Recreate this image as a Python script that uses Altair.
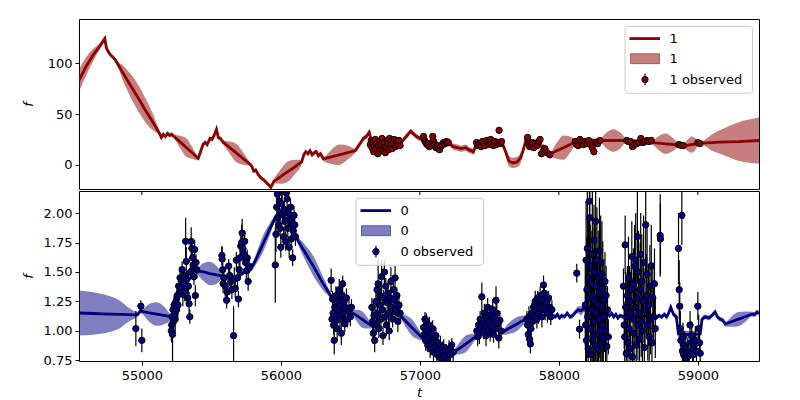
import altair as alt
import pandas as pd

T_DOMAIN = [54548, 59440]
X_TICKS = [55000, 56000, 57000, 58000, 59000]
TOP_Y_DOMAIN = [-23.6, 143.3]
TOP_Y_TICKS = [0, 50, 100]
BOT_Y_DOMAIN = [0.745, 2.187]
BOT_Y_TICKS = [0.75, 1.0, 1.25, 1.5, 1.75, 2.0]

RED = "#8b0000"
NAVY = "#000080"

# ---- band "1": GP mean and standard deviation (t, mean, sd)
gp1 = [
    (54548, 83, 11), (54600, 97, 9), (54650, 108, 6), (54700, 117, 3), (54734, 124, 2),
    (54745, 115, 2), (54755, 112, 2), (54765, 110, 2), (54775, 108, 2), (54790, 106, 2),
    (54805, 104, 2), (54818, 101, 2),
    (54870, 89, 8), (54930, 75.5, 12), (54975, 65.5, 13), (55020, 55, 12), (55080, 42, 8),
    (55129, 30.5, 2), (55140, 27, 2), (55155, 30, 2), (55170, 28, 2), (55185, 31, 2),
    (55200, 29, 2), (55215, 30, 2), (55230, 28.2, 2),
    (55275, 22.7, 6), (55318, 17.4, 9), (55362, 12, 6), (55406, 6.6, 2),
    (55420, 12, 2), (55440, 20, 2), (55455, 22, 2), (55470, 20, 2), (55490, 26, 2),
    (55505, 25, 2), (55520, 29, 2), (55537, 35, 2), (55550, 27, 2), (55565, 26, 2),
    (55585, 22.3, 2),
    (55633, 17, 6), (55681, 11.6, 9), (55729, 6.3, 6), (55777, 1, 2),
    (55790, -1, 2), (55805, -6, 2), (55820, -5, 2), (55840, -10, 2), (55860, -13, 2),
    (55880, -15, 2), (55900, -18, 2), (55915, -20, 2), (55928, -22, 2), (55950, -16, 2),
    (55998, -11.5, 7), (56050, -6.5, 10), (56100, -2, 7), (56150, 3, 2),
    (56165, 10, 2), (56180, 13, 2), (56195, 11, 2), (56210, 14, 2), (56225, 10, 2),
    (56240, 12, 2), (56255, 13, 2), (56270, 9, 2), (56285, 11, 2), (56307, 6, 2),
    (56364, 8, 7), (56421, 10, 10), (56478, 12, 7), (56535, 14, 2),
    (56555, 18, 2.5), (56575, 22, 2.5), (56595, 26, 2.5), (56615, 28, 2.5), (56636, 32, 2.5),
    (56650, 24, 2.5), (56680, 20, 2.5), (56720, 19, 2.5), (56760, 20, 2.5), (56800, 18, 2.5),
    (56840, 20, 2.5), (56866, 22, 2.5), (56890, 26, 2.5), (56915, 30, 2.5), (56935, 33, 2.5),
    (56950, 31, 2.5), (56975, 28, 2.5), (57000, 26, 2.5), (57030, 24, 2.5), (57070, 21, 2.5),
    (57110, 19, 2.5), (57150, 18, 2.5), (57190, 20, 2.5), (57210, 21, 2.5), (57240, 18, 3),
    (57270, 17, 3), (57300, 16, 3), (57330, 17, 3), (57350, 15, 3), (57370, 14, 3),
    (57385, 13, 3), (57400, 18, 3), (57420, 22, 2.5), (57450, 21, 2.5), (57480, 20, 2.5),
    (57510, 21, 2.5), (57540, 23, 2.5), (57560, 22, 2.5), (57580, 21, 2.5), (57600, 19, 3),
    (57620, 12, 4), (57640, 4, 5), (57670, 2, 5), (57700, 3, 5), (57725, 7, 5),
    (57745, 15, 4), (57768, 27, 2.5), (57800, 22, 2.5), (57850, 20, 2.5), (57900, 17, 2.5),
    (57938, 11, 2),
    (57986, 14, 8), (58033, 17, 12), (58081, 20, 8), (58129, 23, 2),
    (58200, 24, 2), (58297, 24, 2),
    (58345, 24, 8), (58392, 24, 11), (58440, 24, 8), (58487, 24, 2),
    (58580, 23, 2), (58671, 22, 2),
    (58719, 21.4, 7), (58767, 20.8, 10), (58815, 20.2, 7), (58862, 19.5, 2),
    (58900, 19, 2), (58930, 19.5, 6), (58955, 20, 8), (58980, 20.5, 6), (59005, 21, 2),
    (59033, 21.5, 2), (59100, 22, 8), (59150, 22.5, 11), (59295, 23, 19), (59440, 24, 22.5),
]

# ---- band "1": observations (t, f)
obs1_a = [
    (56644, 20), (56650, 24), (56656, 17), (56662, 22), (56668, 13), (56674, 19), (56680, 25),
    (56686, 16), (56692, 21), (56698, 11), (56704, 18), (56710, 23), (56716, 15), (56722, 20),
    (56728, 26), (56734, 14), (56740, 19), (56746, 22), (56752, 12), (56758, 17), (56764, 24),
    (56770, 21), (56776, 15), (56782, 26), (56788, 19), (56794, 23), (56800, 16), (56808, 21),
    (56816, 25), (56824, 18), (56832, 22), (56840, 20), (56850, 24), (56858, 19),
]
obs1_b = [
    (57027, 28), (57035, 24), (57043, 22), (57051, 20), (57060, 21), (57068, 18), (57076, 19),
    (57085, 22), (57093, 28), (57100, 23), (57108, 20), (57116, 17), (57125, 19), (57133, 16),
    (57142, 15), (57150, 18), (57160, 20), (57170, 22), (57180, 21), (57192, 23), (57205, 22),
]
obs1_c = [
    (57408, 22), (57416, 19), (57424, 21), (57432, 20), (57440, 18), (57450, 23), (57460, 21),
    (57470, 19), (57480, 24), (57490, 22), (57500, 20), (57510, 25), (57520, 21), (57530, 19),
    (57540, 23), (57550, 20), (57560, 22), (57570, 34), (57578, 21), (57588, 23),
]
obs1_d = [
    (57775, 27), (57782, 21), (57790, 18), (57800, 20), (57810, 22), (57820, 17), (57832, 21),
    (57845, 19), (57855, 23), (57865, 25), (57875, 11), (57890, 14), (57900, 16), (57915, 12),
    (57935, 10),
]
obs1_e = [
    (58118, 23), (58128, 20), (58140, 19), (58152, 25), (58165, 22), (58178, 20), (58190, 23),
    (58202, 21), (58215, 24), (58228, 20), (58240, 17), (58252, 13), (58265, 22), (58280, 21),
    (58295, 24),
]
obs1_f = [
    (58489, 24), (58500, 23), (58515, 23), (58530, 18), (58545, 20), (58560, 21), (58575, 22),
    (58590, 26), (58605, 22), (58620, 23), (58635, 24), (58650, 23), (58665, 24),
]
obs1_g = [(58862, 20), (58875, 19.5), (58895, 19), (59000, 22), (59015, 21)]
OBS1_ERR = 1.0

# ---- band "0": GP mean and standard deviation (t, mean, sd)
gp0 = [
    (54548, 1.152, 0.19), (54650, 1.148, 0.18), (54760, 1.143, 0.155), (54850, 1.140, 0.11),
    (54904, 1.138, 0.06), (54950, 1.136, 0.03), (54970, 1.14, 0.02), (54990, 1.17, 0.02),
    (55000, 1.165, 0.02),
    (55053, 1.153, 0.075), (55107, 1.143, 0.1), (55160, 1.132, 0.075), (55214, 1.12, 0.02),
    (55240, 1.18, 0.02), (55270, 1.30, 0.02), (55300, 1.38, 0.02), (55330, 1.47, 0.02),
    (55360, 1.55, 0.02), (55394, 1.51, 0.02),
    (55442, 1.50, 0.075), (55490, 1.487, 0.1), (55538, 1.476, 0.075), (55586, 1.465, 0.02),
    (55620, 1.45, 0.02), (55660, 1.44, 0.02), (55700, 1.47, 0.02), (55740, 1.50, 0.02),
    (55783, 1.52, 0.02),
    (55830, 1.63, 0.05), (55876, 1.75, 0.07), (55923, 1.87, 0.05), (55969, 1.98, 0.02),
    (56000, 2.02, 0.02), (56050, 1.93, 0.02), (56101, 1.81, 0.02),
    (56167, 1.68, 0.06), (56234, 1.55, 0.085), (56300, 1.41, 0.06), (56367, 1.284, 0.02),
    (56400, 1.22, 0.02), (56440, 1.18, 0.02), (56480, 1.17, 0.02), (56511, 1.157, 0.02),
    (56547, 1.13, 0.05), (56583, 1.10, 0.07), (56619, 1.07, 0.05), (56655, 1.043, 0.02),
    (56700, 1.08, 0.02), (56750, 1.12, 0.02), (56800, 1.15, 0.02), (56859, 1.128, 0.02),
    (56901, 1.08, 0.05), (56943, 1.03, 0.07), (56985, 0.98, 0.05), (57027, 0.93, 0.02),
    (57070, 0.89, 0.02), (57120, 0.85, 0.02), (57170, 0.81, 0.02), (57210, 0.79, 0.02),
    (57243, 0.817, 0.02),
    (57285, 0.852, 0.05), (57327, 0.887, 0.07), (57368, 0.923, 0.05), (57410, 0.958, 0.02),
    (57450, 1.00, 0.02), (57500, 1.03, 0.02), (57550, 1.02, 0.02), (57590, 0.987, 0.02),
    (57638, 1.02, 0.045), (57686, 1.05, 0.06), (57734, 1.083, 0.045), (57782, 1.115, 0.02),
    (57820, 1.15, 0.02), (57870, 1.17, 0.02), (57920, 1.16, 0.02), (57960, 1.13, 0.02),
    (57975, 1.12, 0.02), (57990, 1.14, 0.02), (58005, 1.11, 0.02), (58020, 1.13, 0.02),
    (58040, 1.12, 0.02), (58060, 1.15, 0.02), (58080, 1.12, 0.02), (58100, 1.13, 0.02),
    (58120, 1.16, 0.02), (58140, 1.18, 0.03), (58160, 1.17, 0.04), (58180, 1.19, 0.03),
    (58220, 1.18, 0.02), (58260, 1.17, 0.02), (58300, 1.16, 0.02), (58340, 1.15, 0.02),
    (58365, 1.13, 0.02), (58380, 1.15, 0.02), (58395, 1.12, 0.02), (58410, 1.14, 0.02),
    (58425, 1.11, 0.02), (58440, 1.13, 0.02), (58465, 1.12, 0.02), (58550, 1.12, 0.02),
    (58640, 1.13, 0.02), (58700, 1.11, 0.02), (58720, 1.13, 0.02), (58740, 1.12, 0.02),
    (58760, 1.14, 0.02), (58775, 1.12, 0.02), (58790, 1.15, 0.02), (58805, 1.20, 0.02),
    (58825, 1.14, 0.02), (58845, 1.12, 0.02), (58861, 0.975, 0.03), (58940, 0.97, 0.03),
    (59017, 0.975, 0.03), (59030, 1.10, 0.02), (59053, 1.12, 0.02), (59080, 1.11, 0.02),
    (59100, 1.13, 0.02), (59125, 1.16, 0.02), (59140, 1.12, 0.02), (59160, 1.10, 0.02),
    (59180, 1.09, 0.02), (59197, 1.058, 0.02),
    (59245, 1.08, 0.045), (59293, 1.10, 0.06), (59340, 1.12, 0.045), (59388, 1.143, 0.02),
    (59410, 1.14, 0.02), (59425, 1.16, 0.02), (59440, 1.15, 0.02),
]

# ---- band "0": observations (t, f, err)
obs0_a = [(54957, 1.02, 0.15), (54993, 1.21, 0.05), (55000, 0.92, 0.1)]
obs0_b = [
    (55212, 1.00, 0.08), (55215, 1.05, 0.15), (55218, 1.12, 0.06), (55221, 0.97, 0.25),
    (55224, 1.18, 0.07), (55228, 1.08, 0.10), (55232, 1.22, 0.08), (55236, 1.14, 0.06),
    (55240, 1.10, 0.12), (55245, 1.25, 0.07), (55250, 1.18, 0.08), (55255, 1.30, 0.06),
    (55260, 1.22, 0.10), (55265, 1.38, 0.08), (55270, 1.33, 0.07), (55275, 1.45, 0.09),
    (55280, 1.36, 0.06), (55285, 1.42, 0.08), (55290, 1.52, 0.07), (55295, 1.31, 0.10),
    (55300, 1.40, 0.08), (55305, 1.47, 0.06), (55310, 1.34, 0.09), (55315, 1.76, 0.20),
    (55320, 1.59, 0.12), (55325, 1.44, 0.07), (55330, 1.28, 0.08), (55335, 1.38, 0.06),
    (55340, 1.23, 0.10), (55345, 1.12, 0.06), (55350, 1.50, 0.07), (55355, 1.76, 0.12),
    (55360, 1.70, 0.08), (55365, 1.62, 0.06), (55370, 1.56, 0.09), (55375, 1.46, 0.07),
    (55380, 1.69, 0.08), (55385, 1.30, 0.09), (55390, 1.58, 0.07), (55395, 1.52, 0.08),
]
obs0_c = [
    (55576, 1.64, 0.08), (55578, 1.61, 0.10), (55582, 1.52, 0.07), (55585, 1.40, 0.08),
    (55590, 1.45, 0.06), (55600, 1.38, 0.09), (55610, 1.26, 0.07), (55615, 1.33, 0.08),
    (55625, 1.55, 0.06), (55632, 1.47, 0.09), (55640, 1.42, 0.07), (55648, 1.35, 0.08),
    (55660, 0.96, 0.25), (55665, 1.44, 0.10), (55672, 1.36, 0.08), (55680, 1.60, 0.07),
    (55688, 1.45, 0.09), (55695, 1.27, 0.07), (55700, 1.52, 0.08), (55706, 1.62, 0.10),
    (55712, 1.72, 0.12), (55718, 1.75, 0.15), (55722, 1.83, 0.12), (55728, 1.70, 0.10),
    (55735, 1.65, 0.08), (55740, 1.76, 0.09), (55746, 1.58, 0.07), (55752, 1.51, 0.08),
    (55758, 1.62, 0.07), (55765, 1.42, 0.08), (55772, 1.55, 0.06),
]
obs0_d = [
    (55960, 1.56, 0.32), (55965, 1.82, 0.15), (55970, 2.05, 0.09), (55975, 2.16, 0.08),
    (55980, 1.96, 0.07), (55985, 1.90, 0.09), (55990, 2.10, 0.08), (55995, 1.87, 0.07),
    (56000, 1.71, 0.09), (56005, 2.08, 0.08), (56010, 2.19, 0.07), (56015, 1.99, 0.09),
    (56020, 1.80, 0.08), (56025, 2.03, 0.07), (56030, 1.93, 0.10), (56035, 1.76, 0.08),
    (56040, 2.17, 0.07), (56045, 2.12, 0.09), (56050, 1.87, 0.08), (56055, 2.00, 0.07),
    (56060, 1.71, 0.09), (56065, 1.95, 0.08), (56070, 2.05, 0.07), (56075, 1.78, 0.09),
    (56080, 1.92, 0.08), (56085, 1.62, 0.07), (56090, 1.85, 0.09), (56095, 1.98, 0.08),
    (56100, 1.90, 0.07), (56105, 1.80, 0.08),
]
obs0_e = [
    (56362, 1.43, 0.10), (56368, 1.10, 0.08), (56372, 1.27, 0.07), (56376, 1.15, 0.09),
    (56380, 1.05, 0.08), (56384, 0.92, 0.12), (56388, 1.20, 0.07), (56392, 1.08, 0.09),
    (56396, 1.30, 0.08), (56400, 1.13, 0.07), (56405, 1.02, 0.10), (56410, 1.25, 0.08),
    (56415, 1.18, 0.07), (56420, 1.35, 0.09), (56425, 1.10, 0.08), (56430, 1.22, 0.07),
    (56435, 0.98, 0.10), (56440, 1.30, 0.08), (56445, 1.40, 0.07), (56450, 1.15, 0.09),
    (56455, 1.25, 0.08), (56460, 1.06, 0.07), (56465, 1.20, 0.09), (56472, 1.28, 0.08),
    (56480, 1.10, 0.07), (56490, 1.17, 0.09), (56500, 1.12, 0.08), (56508, 1.20, 0.07),
]
obs0_f = [
    (56655, 1.20, 0.08), (56660, 1.08, 0.10), (56665, 0.98, 0.09), (56670, 1.13, 0.07),
    (56675, 0.92, 0.10), (56679, 1.67, 0.05), (56684, 1.25, 0.09), (56688, 1.05, 0.08),
    (56692, 1.35, 0.07), (56696, 1.15, 0.09), (56700, 1.40, 0.20), (56705, 1.02, 0.08),
    (56710, 1.22, 0.07), (56715, 1.30, 0.09), (56720, 1.10, 0.08), (56725, 1.46, 0.14),
    (56730, 1.18, 0.09), (56735, 0.96, 0.08), (56740, 1.28, 0.07), (56745, 1.50, 0.10),
    (56750, 1.12, 0.08), (56755, 1.38, 0.07), (56760, 1.05, 0.09), (56765, 1.24, 0.08),
    (56770, 1.32, 0.07), (56775, 1.15, 0.09), (56780, 1.00, 0.08), (56786, 1.28, 0.07),
    (56792, 1.42, 0.12), (56798, 1.20, 0.08), (56804, 1.10, 0.07), (56810, 1.35, 0.09),
    (56816, 1.26, 0.08), (56822, 1.45, 0.10), (56828, 1.18, 0.08), (56835, 1.30, 0.07),
    (56842, 1.08, 0.09), (56850, 1.22, 0.08), (56858, 1.15, 0.07),
]
obs0_g = [
    (57027, 1.03, 0.07), (57032, 0.97, 0.08), (57037, 1.10, 0.06), (57042, 0.92, 0.09),
    (57047, 1.08, 0.07), (57052, 1.00, 0.08), (57057, 0.88, 0.06), (57062, 0.95, 0.09),
    (57068, 1.05, 0.07), (57074, 0.85, 0.08), (57080, 0.98, 0.06), (57086, 0.90, 0.09),
    (57092, 1.02, 0.07), (57098, 0.82, 0.08), (57104, 0.93, 0.06), (57110, 0.87, 0.09),
    (57116, 0.96, 0.07), (57122, 0.80, 0.08), (57128, 0.90, 0.06), (57134, 0.84, 0.09),
    (57140, 0.78, 0.07), (57148, 0.88, 0.08), (57156, 0.76, 0.06), (57164, 0.82, 0.09),
    (57172, 0.86, 0.07), (57180, 0.79, 0.08), (57190, 0.83, 0.06), (57200, 0.77, 0.09),
    (57210, 0.85, 0.07), (57220, 0.80, 0.08), (57230, 0.88, 0.06), (57240, 0.82, 0.09),
]
obs0_h = [
    (57410, 1.00, 0.07), (57416, 0.95, 0.08), (57422, 1.05, 0.06), (57428, 0.98, 0.09),
    (57434, 1.10, 0.07), (57440, 1.02, 0.08), (57446, 1.29, 0.12), (57452, 1.08, 0.09),
    (57458, 1.00, 0.07), (57464, 1.15, 0.08), (57470, 1.05, 0.06), (57476, 0.96, 0.09),
    (57482, 1.12, 0.07), (57488, 1.20, 0.08), (57494, 1.03, 0.06), (57500, 1.08, 0.09),
    (57506, 0.98, 0.07), (57512, 1.14, 0.08), (57518, 1.04, 0.06), (57524, 1.18, 0.09),
    (57530, 0.97, 0.07), (57536, 1.10, 0.08), (57542, 1.02, 0.06), (57548, 1.26, 0.12),
    (57554, 1.15, 0.08), (57560, 1.06, 0.07), (57568, 0.94, 0.09), (57576, 1.09, 0.08),
    (57584, 1.00, 0.07),
]
obs0_i = [
    (57770, 1.10, 0.07), (57775, 1.05, 0.08), (57780, 0.97, 0.06), (57785, 1.12, 0.09),
    (57790, 0.93, 0.07), (57795, 0.89, 0.08), (57800, 1.02, 0.06), (57806, 1.15, 0.09),
    (57812, 1.08, 0.07), (57818, 1.20, 0.08), (57824, 1.12, 0.06), (57830, 1.25, 0.09),
    (57836, 1.18, 0.07), (57842, 1.10, 0.08), (57848, 1.28, 0.06), (57854, 1.15, 0.09),
    (57860, 1.22, 0.07), (57866, 1.30, 0.08), (57872, 1.20, 0.06), (57878, 1.12, 0.09),
    (57884, 1.26, 0.07), (57890, 1.39, 0.08), (57896, 1.32, 0.06), (57902, 1.18, 0.09),
    (57910, 1.24, 0.07), (57918, 1.15, 0.08), (57926, 1.28, 0.06), (57934, 1.20, 0.09),
    (57942, 1.12, 0.07), (57950, 1.18, 0.08),
]
obs0_j = [
    (58129, 1.49, 0.08), (58149, 1.015, 0.08),
    (58190, 1.22, 0.35), (58193, 1.05, 0.40), (58196, 1.60, 0.50), (58199, 0.92, 0.30),
    (58202, 1.35, 0.45), (58205, 1.70, 0.55), (58208, 1.12, 0.35), (58211, 0.85, 0.40),
    (58214, 1.45, 0.50), (58217, 1.28, 0.30), (58220, 2.10, 0.60), (58223, 1.96, 0.45),
    (58226, 1.55, 0.35), (58229, 1.02, 0.40), (58232, 0.80, 0.50), (58235, 1.18, 0.30),
    (58238, 1.40, 0.45), (58241, 1.65, 0.55), (58244, 0.95, 0.35), (58247, 1.30, 0.40),
    (58250, 1.08, 0.50), (58253, 1.77, 0.30), (58256, 1.50, 0.45), (58259, 1.25, 0.55),
    (58262, 0.88, 0.35), (58265, 1.93, 0.40), (58268, 1.15, 0.50), (58271, 1.38, 0.30),
    (58274, 1.60, 0.45), (58277, 0.98, 0.55), (58280, 1.22, 0.35), (58283, 1.45, 0.40),
    (58286, 0.84, 0.50), (58289, 1.10, 0.30), (58292, 1.68, 0.45), (58295, 1.32, 0.55),
    (58298, 1.00, 0.35), (58301, 1.58, 0.40), (58304, 0.90, 0.50), (58307, 1.20, 0.30),
    (58310, 1.48, 0.45), (58313, 1.05, 0.35), (58316, 1.36, 0.40), (58320, 0.94, 0.30),
    (58324, 1.26, 0.35), (58328, 1.12, 0.30), (58332, 1.42, 0.25), (58336, 1.00, 0.30),
    (58340, 1.30, 0.25), (58345, 0.87, 0.20), (58350, 1.18, 0.20), (58356, 0.95, 0.15),
]
obs0_k = [
    (58465, 1.38, 0.15), (58470, 1.05, 0.20), (58474, 0.95, 0.25), (58477, 1.73, 0.25),
    (58481, 1.20, 0.30), (58485, 0.81, 0.20), (58489, 1.12, 0.35), (58493, 1.30, 0.25),
    (58497, 0.90, 0.30), (58501, 1.45, 0.35), (58505, 1.02, 0.25), (58509, 1.25, 0.30),
    (58513, 0.85, 0.20), (58517, 1.15, 0.35), (58521, 1.35, 0.25), (58525, 1.63, 0.30),
    (58529, 0.78, 0.20), (58533, 1.10, 0.35), (58537, 1.40, 0.30), (58541, 0.98, 0.25),
    (58545, 1.55, 0.35), (58549, 1.20, 0.30), (58553, 1.60, 0.40), (58557, 0.88, 0.25),
    (58561, 1.28, 0.35), (58565, 1.80, 0.40), (58569, 1.05, 0.30), (58573, 1.50, 0.35),
    (58577, 1.15, 0.30), (58581, 0.93, 0.25), (58585, 1.35, 0.40), (58589, 1.65, 0.35),
    (58593, 1.08, 0.30), (58597, 1.42, 0.40), (58601, 1.00, 0.30), (58605, 1.25, 0.35),
    (58610, 1.58, 0.40), (58615, 0.86, 0.30), (58620, 1.18, 0.35), (58625, 1.90, 0.45),
    (58630, 1.30, 0.35), (58635, 1.48, 0.40), (58640, 1.05, 0.30), (58645, 1.22, 0.35),
    (58650, 0.95, 0.30), (58655, 1.38, 0.35), (58660, 1.10, 0.30), (58665, 1.55, 0.35),
    (58670, 0.90, 0.25), (58676, 1.28, 0.30), (58682, 1.12, 0.25), (58688, 1.40, 0.30),
    (58694, 1.02, 0.25), (58729, 1.81, 0.35), (58731, 1.78, 0.30),
]
obs0_l = [
    (58861, 1.70, 0.30), (58866, 1.35, 0.25), (58870, 1.21, 0.20), (58874, 1.02, 0.15),
    (58878, 0.92, 0.12), (58885, 1.98, 0.25), (58889, 0.83, 0.10), (58893, 0.95, 0.12),
    (58897, 0.80, 0.10), (58902, 0.88, 0.12), (58908, 0.78, 0.10), (58914, 0.85, 0.12),
    (58920, 0.77, 0.10), (58928, 0.82, 0.12), (58936, 0.79, 0.10), (58944, 1.05, 0.12),
    (58950, 0.90, 0.10), (58956, 0.96, 0.12), (58962, 0.84, 0.10), (58968, 0.80, 0.12),
    (58975, 0.88, 0.10), (58982, 0.92, 0.12), (58990, 0.83, 0.10), (59000, 1.21, 0.12),
    (59006, 1.02, 0.12), (59012, 0.90, 0.10), (59017, 0.81, 0.12),
]

# ---- build tables
def gp_frame(rows):
    df = pd.DataFrame(rows, columns=["t", "mean", "sd"])
    df["lo"] = df["mean"] - df["sd"]
    df["hi"] = df["mean"] + df["sd"]
    return df

gp1_df = gp_frame(gp1)
gp0_df = gp_frame(gp0)

obs1_df = pd.DataFrame(obs1_a + obs1_b + obs1_c + obs1_d + obs1_e + obs1_f + obs1_g,
                       columns=["t", "f"])
obs1_df["lo"] = obs1_df["f"] - OBS1_ERR
obs1_df["hi"] = obs1_df["f"] + OBS1_ERR

obs0_df = pd.DataFrame(obs0_a + obs0_b + obs0_c + obs0_d + obs0_e + obs0_f + obs0_g
                       + obs0_h + obs0_i + obs0_j + obs0_k + obs0_l,
                       columns=["t", "f", "err"])
obs0_df["lo"] = obs0_df["f"] - obs0_df["err"]
obs0_df["hi"] = obs0_df["f"] + obs0_df["err"]

W, H = 680, 170
FONT = "DejaVu Sans"


def legend_layers(x0, y0, color, label):
    one = pd.DataFrame({"label": [label]})
    base = alt.Chart(one)
    box = base.mark_rect(fill="white", fillOpacity=0.8, stroke="#cccccc",
                         strokeWidth=1, cornerRadius=3).encode(
        x=alt.value(x0), x2=alt.value(x0 + 127.5), y=alt.value(y0), y2=alt.value(y0 + 67))
    line = base.mark_rule(color=color, strokeWidth=2.8).encode(
        x=alt.value(x0 + 4.5), x2=alt.value(x0 + 35), y=alt.value(y0 + 12.3))
    patch = base.mark_rect(fill=color, fillOpacity=0.5, stroke=color, strokeOpacity=0.5).encode(
        x=alt.value(x0 + 5.5), x2=alt.value(x0 + 34.5), y=alt.value(y0 + 27.4), y2=alt.value(y0 + 37.4))
    ebar = base.mark_rule(color="black", strokeWidth=1.2).encode(
        x=alt.value(x0 + 20), y=alt.value(y0 + 47.5), y2=alt.value(y0 + 59))
    dot = base.mark_circle(fill=color, stroke="black", strokeWidth=1, opacity=1, size=40).encode(
        x=alt.value(x0 + 20), y=alt.value(y0 + 53.3))
    texts = []
    for dy, txt in [(12.3, label), (32.4, label), (53.3, label + " observed")]:
        texts.append(alt.Chart(pd.DataFrame({"txt": [txt]})).mark_text(
            align="left", baseline="middle", font=FONT, fontSize=13, color="black").encode(
            x=alt.value(x0 + 44.5), y=alt.value(y0 + dy), text="txt:N"))
    return [box, line, patch, ebar, dot] + texts


def panel(gp_df, obs_df, color, y_domain, y_ticks, y_fmt, show_x, legend_pos, label):
    xscale = alt.Scale(domain=T_DOMAIN, nice=False, zero=False)
    yscale = alt.Scale(domain=y_domain, nice=False, zero=False)
    if show_x:
        xaxis = alt.Axis(values=X_TICKS, tickCount=20, format="d", title="t",
                         labelPadding=4, titlePadding=4)
    else:
        xaxis = None
    yaxis = alt.Axis(values=y_ticks, tickCount=20, format=y_fmt, title="f",
                     minExtent=40, maxExtent=40, titlePadding=4,
                     labelOverlap=False, labelFlush=False)
    x = alt.X("t:Q", scale=xscale, axis=xaxis)
    band = alt.Chart(gp_df).mark_area(color=color, opacity=0.5, interpolate="monotone",
                                      clip=True).encode(
        x=x, y=alt.Y("lo:Q", scale=yscale, axis=yaxis), y2="hi:Q")
    line = alt.Chart(gp_df).mark_line(color=color, strokeWidth=2.8, clip=True).encode(
        x="t:Q", y="mean:Q")
    ebar = alt.Chart(obs_df).mark_rule(color="black", strokeWidth=1.2, clip=True).encode(
        x="t:Q", y="lo:Q", y2="hi:Q")
    dots = alt.Chart(obs_df).mark_circle(fill=color, stroke="black", strokeWidth=1, opacity=1,
                                         size=40, clip=True).encode(x="t:Q", y="f:Q")
    layers = [band, line, ebar, dots]
    if show_x:
        tick_df = pd.DataFrame({"t": X_TICKS})
        layers.append(alt.Chart(tick_df).mark_rule(color="black", strokeWidth=1).encode(
            x="t:Q", y=alt.value(0), y2=alt.value(4)))
    layers += legend_layers(legend_pos[0], legend_pos[1], color, label)
    return alt.layer(*layers).properties(width=W, height=H)


top = panel(gp1_df, obs1_df, RED, TOP_Y_DOMAIN, TOP_Y_TICKS, "d", False, (546, 7.3), "1")
bottom = panel(gp0_df, obs0_df, NAVY, BOT_Y_DOMAIN, BOT_Y_TICKS, ".2f", True, (277, 7.3), "0")

chart = alt.vconcat(top, bottom, spacing=0).properties(
    padding={"left": 13, "top": 10, "right": 10, "bottom": 5}
).configure_view(stroke="black", strokeWidth=1).configure_axis(
    grid=False, domain=False, ticks=True, tickColor="black", tickSize=4, tickWidth=1,
    labelFont=FONT, labelFontSize=13, labelColor="black", labelPadding=3,
    titleFont=FONT, titleFontSize=13, titleFontStyle="italic", titleFontWeight="normal",
    titleColor="black"
)

chart.save("out.html", embed_options={"renderer": "svg", "actions": False})
